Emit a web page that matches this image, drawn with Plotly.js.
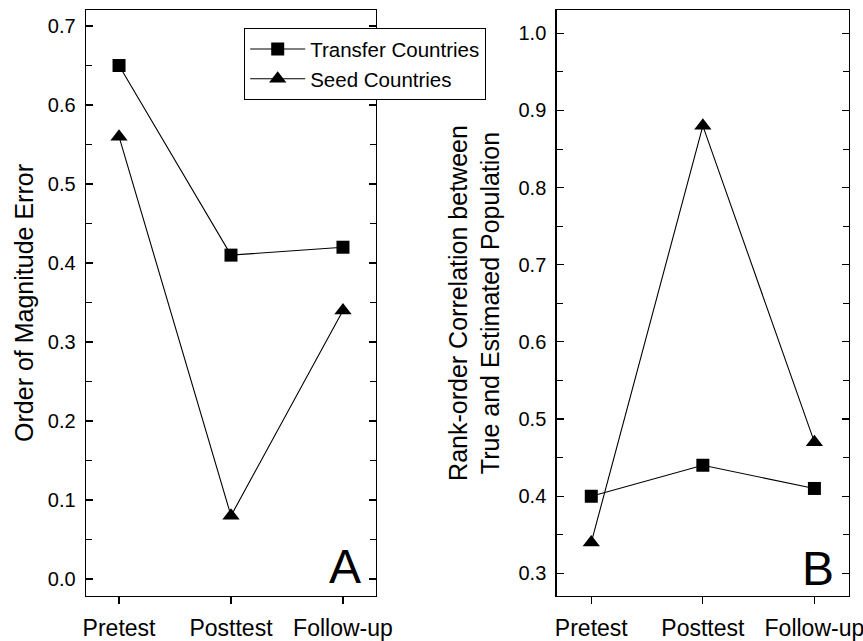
<!DOCTYPE html>
<html>
<head>
<meta charset="utf-8">
<script src="https://cdn.plot.ly/plotly-3.0.1.min.js"></script>
<style>html,body{margin:0;padding:0;background:#fff;}#chart{width:863px;height:641px;}</style>
</head>
<body>
<div id="chart"></div>
<script>
const categories = ["Pretest", "Posttest", "Follow-up"];
const transferError = [0.65, 0.41, 0.42];
const seedError = [0.56, 0.08, 0.34];
const transferCorr = [0.40, 0.44, 0.41];
const seedCorr = [0.34, 0.88, 0.47];
const seriesNames = ["Transfer Countries", "Seed Countries"];

const W = 863, H = 641;
const FONT = "Liberation Sans, Arial, Helvetica, sans-serif";
const lineStyle = {color: "#000", width: 1.1};
const sq = {symbol: "square", size: 13, color: "#000"};
const tri = {symbol: "triangle-up", size: 15, color: "#000"};

const traces = [
  {x: categories, y: transferError, name: seriesNames[0], mode: "lines+markers", line: lineStyle, marker: sq, xaxis: "x", yaxis: "y"},
  {x: categories, y: seedError, name: seriesNames[1], mode: "lines+markers", line: lineStyle, marker: tri, xaxis: "x", yaxis: "y"},
  {x: categories, y: transferCorr, name: seriesNames[0], mode: "lines+markers", line: lineStyle, marker: sq, xaxis: "x2", yaxis: "y2", showlegend: false},
  {x: categories, y: seedCorr, name: seriesNames[1], mode: "lines+markers", line: lineStyle, marker: tri, xaxis: "x2", yaxis: "y2", showlegend: false}
];

const yDom = [1 - 596 / H, 1 - 10 / H];
const xBase = {
  type: "category", showline: true, linecolor: "#000", linewidth: 1.4, mirror: true,
  ticks: "outside", ticklen: 7, tickcolor: "#000", tickwidth: 1.2,
  ticklabelstandoff: 4,
  showgrid: false, zeroline: false, tickfont: {family: FONT, size: 23, color: "#000"}
};
const yBase = {
  showline: true, linecolor: "#000", linewidth: 1.4, mirror: "ticks",
  ticks: "inside", ticklen: 7, tickcolor: "#000", tickwidth: 1.2,
  ticklabelstandoff: 5,
  showgrid: false, zeroline: false, dtick: 0.1, tickformat: ".1f",
  minor: {ticks: "inside", ticklen: 6, dtick: 0.05, tickcolor: "#000", tickwidth: 1, showgrid: false},
  tickfont: {family: FONT, size: 20, color: "#000"}
};

const layout = {
  width: W, height: H,
  margin: {l: 0, r: 0, t: 0, b: 0},
  paper_bgcolor: "#fff", plot_bgcolor: "#fff",
  font: {family: FONT, color: "#000"},
  xaxis: Object.assign({}, xBase, {domain: [86 / W, 376 / W], range: [-0.295, 2.295], anchor: "y"}),
  yaxis: Object.assign({}, yBase, {domain: yDom, range: [-0.0215, 0.7203], anchor: "x",
    title: {text: "Order of Magnitude Error", font: {family: FONT, size: 25, color: "#000"}, standoff: 7}}),
  xaxis2: Object.assign({}, xBase, {domain: [556.7 / W, 849 / W], range: [-0.31, 2.31], anchor: "y2"}),
  yaxis2: Object.assign({}, yBase, {domain: yDom, range: [0.2706, 1.0302], anchor: "x2",
    title: {text: "Rank-order Correlation between<br>True and Estimated Population", font: {family: FONT, size: 25, color: "#000"}, standoff: 11}}),
  showlegend: true,
  legend: {
    x: 244 / W, y: 1 - 28 / H, xanchor: "left", yanchor: "top",
    bgcolor: "#fff", bordercolor: "#000", borderwidth: 1.2,
    font: {family: FONT, size: 20.5, color: "#000"}, tracegroupgap: 0, itemwidth: 55
  },
  annotations: [
    {text: "A", xref: "paper", yref: "paper", x: 345 / W, y: 1 - 566 / H, xanchor: "center", yanchor: "middle", showarrow: false, font: {family: FONT, size: 48, color: "#000"}},
    {text: "B", xref: "paper", yref: "paper", x: 818 / W, y: 1 - 568 / H, xanchor: "center", yanchor: "middle", showarrow: false, font: {family: FONT, size: 48, color: "#000"}}
  ]
};

Plotly.newPlot("chart", traces, layout, {staticPlot: true, displayModeBar: false});
</script>
</body>
</html>
